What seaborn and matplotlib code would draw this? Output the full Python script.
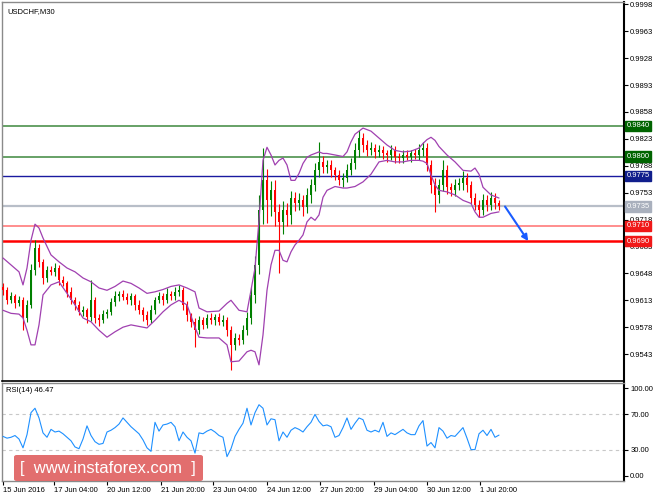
import numpy as np
import pandas as pd
import matplotlib
matplotlib.use('Agg')
import matplotlib.pyplot as plt
from matplotlib.patches import FancyBboxPatch
import seaborn as sns

# price data, one candle per bar
close = [0.9626, 0.9613, 0.9618, 0.9609, 0.9613, 0.9590, 0.9607, 0.9652, 0.9681, 0.9663,
         0.9642, 0.9652, 0.9650, 0.9655, 0.9639, 0.9635, 0.9624, 0.9613, 0.9607, 0.9598,
         0.9600, 0.9591, 0.9613, 0.9590, 0.9587, 0.9595, 0.9598, 0.9611, 0.9618, 0.9621,
         0.9617, 0.9613, 0.9618, 0.9607, 0.9600, 0.9594, 0.9587, 0.9600, 0.9613, 0.9618,
         0.9613, 0.9621, 0.9618, 0.9624, 0.9626, 0.9607, 0.9594, 0.9585, 0.9574, 0.9587,
         0.9581, 0.9590, 0.9587, 0.9591, 0.9585, 0.9587, 0.9574, 0.9555, 0.9564, 0.9561,
         0.9574, 0.9590, 0.9620, 0.9659, 0.9730, 0.9769, 0.9743, 0.9756, 0.9728, 0.9715,
         0.9730, 0.9724, 0.9746, 0.9739, 0.9743, 0.9734, 0.9750, 0.9763, 0.9782, 0.9793,
         0.9786, 0.9789, 0.9782, 0.9776, 0.9769, 0.9772, 0.9782, 0.9791, 0.9808, 0.9824,
         0.9815, 0.9808, 0.9811, 0.9806, 0.9808, 0.9804, 0.9802, 0.9808, 0.9799, 0.9798,
         0.9802, 0.9800, 0.9804, 0.9802, 0.9808, 0.9811, 0.9789, 0.9763, 0.9750, 0.9763,
         0.9782, 0.9760, 0.9756, 0.9763, 0.9765, 0.9772, 0.9763, 0.9746, 0.9737, 0.9730,
         0.9743, 0.9737, 0.9746, 0.9739, 0.9735]
first_open = 0.9630

# wick lengths in pips above / below the candle body
wick_up = [5, 4, 6, 3, 5, 4, 6, 8, 10, 5,
           4, 6, 5, 7, 4, 5, 3, 6, 4, 5,
           6, 3, 26, 4, 5, 6, 4, 5, 7, 4,
           6, 5, 4, 3, 6, 4, 5, 7, 4, 6,
           5, 8, 4, 6, 7, 4, 5, 3, 5, 6,
           4, 5, 6, 4, 5, 7, 4, 5, 6, 5,
           7, 8, 10, 12, 20, 42, 15, 12, 14, 10,
           12, 10, 9, 8, 10, 7, 9, 8, 10, 26,
           8, 7, 6, 5, 7, 6, 8, 7, 9, 10,
           7, 6, 8, 5, 7, 6, 5, 7, 6, 5,
           7, 6, 5, 6, 8, 8, 7, 6, 9, 8,
           13, 7, 6, 8, 7, 9, 6, 5, 6, 7,
           8, 7, 8, 6, 5]
wick_dn = [6, 5, 4, 6, 4, 16, 5, 4, 6, 7,
           8, 5, 4, 5, 6, 4, 7, 5, 6, 4,
           5, 7, 5, 6, 8, 4, 5, 4, 5, 6,
           4, 5, 6, 7, 5, 8, 6, 4, 5, 4,
           6, 4, 5, 4, 5, 6, 8, 7, 22, 5,
           6, 4, 5, 6, 4, 5, 8, 33, 7, 6,
           5, 6, 8, 10, 12, 18, 30, 20, 18, 67,
           16, 14, 12, 10, 9, 12, 8, 10, 8, 9,
           7, 8, 9, 7, 6, 8, 5, 6, 7, 8,
           9, 7, 6, 8, 6, 7, 9, 6, 8, 7,
           6, 5, 7, 5, 6, 7, 8, 10, 22, 10,
           8, 9, 8, 7, 6, 8, 9, 8, 7, 9,
           6, 8, 6, 7, 4]

# Bollinger bands (bar index, upper, lower)
bb_bar = [0, 2, 4, 5, 6, 7, 8, 9, 10, 12, 14, 16, 18, 20, 22, 24, 26, 28, 30, 32,
          34, 36, 38, 40, 42, 44, 46, 48, 49, 51, 54, 56, 57, 59, 61, 62, 63, 64, 65, 66,
          67, 68, 69, 70, 71, 72, 73, 74, 75, 76, 77, 78, 79, 80, 81, 83, 85, 86, 87, 88,
          90, 92, 94, 96, 98, 100, 102, 104, 105, 106, 107, 108, 109, 111, 113, 115, 117, 118, 119, 120,
          122, 124]
bb_upper = [0.9668, 0.9659, 0.9650, 0.9633, 0.9655, 0.9691, 0.9712, 0.9707, 0.9694, 0.9672,
            0.9663, 0.9655, 0.9650, 0.9642, 0.9637, 0.9629, 0.9626, 0.9631, 0.9638, 0.9635,
            0.9629, 0.9622, 0.9624, 0.9627, 0.9631, 0.9633, 0.9629, 0.9624, 0.9603, 0.9598,
            0.9599, 0.9609, 0.9613, 0.9600, 0.9598, 0.9626, 0.9655, 0.9717, 0.9795, 0.9812,
            0.9802, 0.9789, 0.9795, 0.9798, 0.9789, 0.9769, 0.9769, 0.9778, 0.9791, 0.9799,
            0.9802, 0.9804, 0.9806, 0.9804, 0.9804, 0.9802, 0.9800, 0.9806, 0.9819, 0.9829,
            0.9837, 0.9833, 0.9824, 0.9815, 0.9808, 0.9806, 0.9807, 0.9811, 0.9817, 0.9822,
            0.9825, 0.9821, 0.9813, 0.9802, 0.9793, 0.9782, 0.9781, 0.9785, 0.9777, 0.9760,
            0.9750, 0.9746]
bb_lower = [0.9600, 0.9596, 0.9595, 0.9590, 0.9574, 0.9555, 0.9555, 0.9581, 0.9620, 0.9633,
            0.9637, 0.9622, 0.9607, 0.9590, 0.9585, 0.9574, 0.9565, 0.9572, 0.9578, 0.9581,
            0.9579, 0.9577, 0.9587, 0.9598, 0.9607, 0.9613, 0.9607, 0.9578, 0.9565, 0.9564,
            0.9564, 0.9555, 0.9533, 0.9534, 0.9546, 0.9548, 0.9546, 0.9529, 0.9568, 0.9626,
            0.9659, 0.9678, 0.9678, 0.9665, 0.9663, 0.9676, 0.9685, 0.9691, 0.9698, 0.9715,
            0.9721, 0.9717, 0.9724, 0.9747, 0.9756, 0.9761, 0.9759, 0.9759, 0.9760, 0.9761,
            0.9767, 0.9777, 0.9793, 0.9795, 0.9793, 0.9793, 0.9795, 0.9795, 0.9794, 0.9791,
            0.9776, 0.9763, 0.9756, 0.9754, 0.9750, 0.9743, 0.9739, 0.9728, 0.9721, 0.9721,
            0.9726, 0.9728]

# RSI(14), one value per bar
rsi = [45, 43, 44, 46, 42, 32, 47, 72, 77, 66,
       49, 44, 53, 50, 51, 48, 44, 40, 33, 31,
       42, 57, 46, 39, 36, 37, 50, 52, 55, 59,
       66, 61, 56, 52, 48, 41, 32, 28, 61, 51,
       58, 59, 61, 56, 40, 50, 44, 40, 26, 49,
       48, 51, 53, 50, 46, 44, 22, 31, 45, 53,
       60, 77, 58, 72, 81, 77, 58, 65, 64, 40,
       50, 44, 52, 55, 53, 50, 56, 61, 70, 62,
       57, 58, 56, 44, 46, 55, 66, 53, 60, 66,
       64, 52, 50, 52, 50, 61, 45, 49, 47, 50,
       53, 49, 47, 47, 57, 63, 34, 38, 32, 55,
       51, 43, 46, 45, 50, 55, 43, 30, 30, 48,
       52, 46, 53, 44, 46.47]

levels = [0.9840, 0.9800, 0.9775, 0.9735, 0.9710, 0.9690]
level_line_colors = ['#5a9a5a', '#5a9a5a', '#1a1aa0', '#b8bec8', '#ff7a7a', '#ff0000']
level_box_colors = ['#006400', '#006400', '#101e8c', '#a9b0bd', '#f01818', '#f01818']
level_widths = [1.3, 1.3, 1.0, 1.6, 1.2, 1.8]

price_ticks = [0.9998, 0.9963, 0.9928, 0.9893, 0.9858, 0.9823, 0.9788, 0.9753,
               0.9718, 0.9683, 0.9648, 0.9613, 0.9578, 0.9543]
rsi_ticks = [100, 70, 30, 0]
time_labels = ['15 Jun 2016', '17 Jun 04:00', '20 Jun 12:00', '21 Jun 20:00', '23 Jun 04:00',
               '24 Jun 12:00', '27 Jun 20:00', '29 Jun 04:00', '30 Jun 12:00', '1 Jul 20:00']
time_label_bars = [0, 12.8, 26.0, 39.5, 52.5, 66.0, 79.3, 92.8, 106.0, 119.3]

forecast_target = 0.9690
forecast_bars = 5.8

sns.set_theme(style='white')
plt.rcParams['font.family'] = ['Liberation Sans', 'DejaVu Sans']

df = pd.DataFrame({'bar': np.arange(len(close)), 'close': close,
                   'up': wick_up, 'dn': wick_dn})
df['open'] = [first_open] + close[:-1]
df['top'] = df[['open', 'close']].max(axis=1)
df['bot'] = df[['open', 'close']].min(axis=1)
df['high'] = df['top'] + df['up'] * 1e-4
df['low'] = df['bot'] - df['dn'] * 1e-4
df['color'] = np.where(df['close'] >= df['open'], '#008000', '#ff0000')

bands = pd.DataFrame({'bar': bb_bar, 'upper': bb_upper, 'lower': bb_lower})
rsi_df = pd.DataFrame({'bar': np.arange(len(rsi)), 'rsi': rsi})

W, H = 664, 498
fig = plt.figure(figsize=(W / 100, H / 100), dpi=100)
ax = fig.add_axes([2 / W, 1 - 381 / H, 622 / W, 379 / H])
ax2 = fig.add_axes([2 / W, 1 - 481 / H, 622 / W, 98 / H])

xlim = (-0.25, 155.25)

# level lines
for lv, c, lw in zip(levels, level_line_colors, level_widths):
    ax.axhline(lv, color=c, lw=lw, zorder=1)

# candles
ax.vlines(df['bar'], df['low'], df['high'], colors=df['color'], lw=0.8, zorder=3)
ax.bar(df['bar'], (df['top'] - df['bot']).clip(lower=0.00006), bottom=df['bot'],
       width=0.65, color=df['color'], linewidth=0, zorder=3)

# bollinger bands
sns.lineplot(data=bands, x='bar', y='upper', ax=ax, color='#a040b0', lw=0.9, zorder=4)
sns.lineplot(data=bands, x='bar', y='lower', ax=ax, color='#a040b0', lw=0.9, zorder=4)

# forecast arrow
x0 = len(close) + 0.5
ax.annotate('', xy=(x0 + forecast_bars, forecast_target), xytext=(x0, close[-1]),
            arrowprops=dict(arrowstyle='-|>', color='#1a5cff', lw=1.5,
                            mutation_scale=9, shrinkA=0, shrinkB=0), zorder=5)

ax.set_xlim(*xlim)
ax.set_ylim(0.9508, 1.0001)
ax.set_xlabel('')
ax.set_ylabel('')
ax.set_xticks([])
ax.yaxis.tick_right()
ax.set_yticks(price_ticks)
ax.set_yticklabels([f'{t:.4f}' for t in price_ticks])
ax.tick_params(axis='y', direction='out', length=3, width=0.8, pad=1.5,
               labelsize=5.5, colors='black', right=True, left=False)

# level labels on the price scale
for lv, c in zip(levels, level_box_colors):
    ax.text(1.004, lv, f'{lv:.4f}', transform=ax.get_yaxis_transform(),
            ha='left', va='center', fontsize=5.5, color='white', zorder=6,
            bbox=dict(boxstyle='square,pad=0.2', fc=c, ec=c), clip_on=False)

ax.text(5 / 622, 1 - 6 / 379, 'USDCHF,M30', transform=ax.transAxes,
        ha='left', va='top', fontsize=5.5, color='black')

for s in ['left', 'top']:
    ax.spines[s].set_color('#8a8a8a')
    ax.spines[s].set_linewidth(1.0)
ax.spines['right'].set_color('black')
ax.spines['right'].set_linewidth(1.5)
ax.spines['bottom'].set_color('black')
ax.spines['bottom'].set_linewidth(1.2)

# RSI panel
for lv in [70, 30]:
    ax2.axhline(lv, color='#c8c8c8', lw=0.8, ls=(0, (3, 3)), zorder=1)
sns.lineplot(data=rsi_df, x='bar', y='rsi', ax=ax2, color='#1e90ff', lw=0.8, zorder=3)
ax2.set_xlim(*xlim)
ax2.set_ylim(-5.7, 105.7)
ax2.set_xlabel('')
ax2.set_ylabel('')
ax2.yaxis.tick_right()
ax2.set_yticks(rsi_ticks)
ax2.set_yticklabels([f'{t:.2f}' for t in rsi_ticks])
ax2.tick_params(axis='y', direction='out', length=3, width=0.8, pad=1.5,
                labelsize=5.5, colors='black', right=True, left=False)
ax2.set_xticks(time_label_bars)
ax2.set_xticklabels(time_labels, ha='left')
ax2.tick_params(axis='x', direction='out', length=3, width=0.8, pad=1.5,
                labelsize=5.5, colors='black', bottom=True)
ax2.text(4 / 622, 1 - 4 / 98, f'RSI(14) {rsi[-1]:.2f}', transform=ax2.transAxes,
         ha='left', va='top', fontsize=5.5, color='black')
for s in ['left', 'top', 'bottom']:
    ax2.spines[s].set_color('#8a8a8a')
    ax2.spines[s].set_linewidth(1.0)
ax2.spines['right'].set_color('black')
ax2.spines['right'].set_linewidth(1.5)

# watermark
fig.patches.append(FancyBboxPatch((14 / W, 1 - 481 / H), 189 / W, 26 / H,
                                  boxstyle='round,pad=0,rounding_size=0.004',
                                  transform=fig.transFigure, fc='#e06262', ec='none',
                                  alpha=0.92, zorder=10))
fig.text(108 / W, 1 - 468 / H, '[  www.instaforex.com  ]', ha='center', va='center',
         fontsize=12, color='white', zorder=11)

fig.savefig('out.png', dpi=100)
